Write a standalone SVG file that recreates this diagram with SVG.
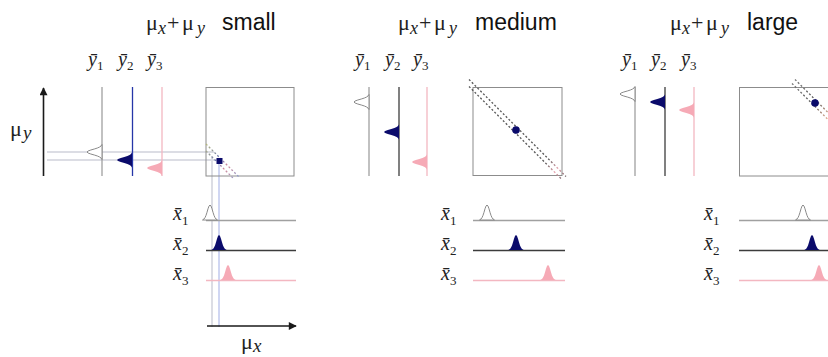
<svg xmlns="http://www.w3.org/2000/svg" width="828" height="357" viewBox="0 0 828 357">
<style>
.ser{font-family:"Liberation Serif","Times New Roman","DejaVu Serif",serif;fill:#222}
.san{font-family:"Liberation Sans",Arial,sans-serif;fill:#111;font-size:23px}
.it{font-style:italic}
.lab{font-size:20px}
.sub{font-size:13px}
.pk1{fill:#fff;stroke:#8a8a8a;stroke-width:1}
.pk2{fill:#0b0b6b}
.pk3{fill:#f6aab6}
.l1{stroke:#a0a0a0;stroke-width:1.3;fill:none}
.l2{stroke:#3c3c3c;stroke-width:1.3;fill:none}
.l2b{stroke:#2636a8;stroke-width:1.3;fill:none}
.l3{stroke:#f3b7c1;stroke-width:1.3;fill:none}
.box{fill:none;stroke:#8c8c8c;stroke-width:1}
.band{fill:none;stroke-width:1.3;stroke-dasharray:2 2}
.guide{stroke:#dcdde4;stroke-width:2;fill:none}
.guideb{stroke:#c0c8ee;stroke-width:1.5;fill:none}
.axis{stroke:#1a1a1a;stroke-width:1.6;fill:none}
</style>
<defs>
<path id="bell" d="M-7.5,0 L-7,-0.4 -6,-1 -5,-2.4 -4,-4.6 -3,-7.7 -2,-11.2 -1,-13.9 0,-15 1,-13.9 2,-11.2 3,-7.7 4,-4.6 5,-2.4 6,-1 7,-0.4 7.5,0 Z"/>
<marker id="ah" viewBox="0 0 10 10" refX="9" refY="5" markerWidth="11" markerHeight="8" orient="auto" markerUnits="userSpaceOnUse">
<path d="M0,0 L10,5 L0,10 Z" fill="#1a1a1a"/>
</marker>
<linearGradient id="g1" gradientUnits="userSpaceOnUse" x1="206" y1="143" x2="240" y2="177">
<stop offset="0" stop-color="#b9bb7a"/><stop offset="0.45" stop-color="#6a74b8"/><stop offset="0.65" stop-color="#d88a98"/><stop offset="1" stop-color="#8aa0d0"/>
</linearGradient>
<linearGradient id="g2" gradientUnits="userSpaceOnUse" x1="470" y1="84" x2="566" y2="180">
<stop offset="0" stop-color="#555"/><stop offset="0.8" stop-color="#555"/><stop offset="0.9" stop-color="#e8a0ac"/><stop offset="1" stop-color="#555"/>
</linearGradient>
<linearGradient id="g3" gradientUnits="userSpaceOnUse" x1="792" y1="80" x2="830" y2="118">
<stop offset="0" stop-color="#777"/><stop offset="0.6" stop-color="#555"/><stop offset="1" stop-color="#e8b090"/>
</linearGradient>
</defs>

<!-- Panel 1: small -->
<g id="panel-small">
<text class="ser" x="146" y="30" font-size="22">μ<tspan class="it" x="158" dy="4" font-size="18">x</tspan><tspan x="167" dy="-4">+</tspan><tspan x="182">μ</tspan><tspan class="it" x="197" dy="4" font-size="18">y</tspan></text>
<text class="san" x="222" y="30">small</text>

<g id="p1-yaxis">
<line class="axis" x1="43.5" y1="176" x2="43.5" y2="88" marker-end="url(#ah)"/>
<text class="ser" x="10" y="136" font-size="22">μ<tspan class="it" x="23" dy="3" font-size="19">y</tspan></text>
</g>
<g id="p1-guides">
<line class="guide" x1="47" y1="152" x2="214" y2="152"/>
<line class="guide" x1="47" y1="160" x2="219" y2="160"/>
<line class="guide" x1="212" y1="156" x2="212" y2="327"/>
<line class="guideb" x1="219" y1="161" x2="219" y2="327"/>
</g>
<g id="p1-y">
<text class="ser lab" x="88" y="66"><tspan class="it">ȳ</tspan><tspan class="sub" dy="4">1</tspan></text>
<text class="ser lab" x="118" y="66"><tspan class="it">ȳ</tspan><tspan class="sub" dy="4">2</tspan></text>
<text class="ser lab" x="147" y="66"><tspan class="it">ȳ</tspan><tspan class="sub" dy="4">3</tspan></text>
<line class="l1" x1="102" y1="87" x2="102" y2="176"/>
<line class="l2b" x1="132.5" y1="87" x2="132.5" y2="176"/>
<line class="l3" x1="162" y1="87" x2="162" y2="176"/>
<use href="#bell" class="pk1" transform="translate(102,152) rotate(-90)"/>
<use href="#bell" class="pk2" transform="translate(132,160) rotate(-90)"/>
<use href="#bell" class="pk3" transform="translate(162,168) rotate(-90)"/>
</g>
<g id="p1-joint">
<rect class="box" x="206" y="87.5" width="88" height="88.5"/>
<line class="band" stroke="url(#g1)" x1="206" y1="144" x2="240" y2="178"/>
<line class="band" stroke="url(#g1)" x1="206" y1="151" x2="233" y2="178"/>
<rect x="216.5" y="158" width="6" height="6" fill="#0b0b6b"/>
</g>
<g id="p1-x">
<text class="ser lab" x="173" y="220"><tspan class="it">x̄</tspan><tspan class="sub" dy="5">1</tspan></text>
<text class="ser lab" x="173" y="250"><tspan class="it">x̄</tspan><tspan class="sub" dy="5">2</tspan></text>
<text class="ser lab" x="173" y="280"><tspan class="it">x̄</tspan><tspan class="sub" dy="5">3</tspan></text>
<line class="l1" x1="206" y1="220.5" x2="296" y2="220.5"/>
<line class="l2" x1="206" y1="250.5" x2="296" y2="250.5"/>
<line class="l3" x1="206" y1="280.5" x2="296" y2="280.5"/>
<use href="#bell" class="pk1" transform="translate(210,220)"/>
<use href="#bell" class="pk2" transform="translate(219,250)"/>
<use href="#bell" class="pk3" transform="translate(228,280)"/>
</g>
<g id="p1-xaxis">
<line class="axis" x1="207" y1="326" x2="296" y2="326" marker-end="url(#ah)"/>
<text class="ser" x="241" y="349" font-size="22">μ<tspan class="it" x="253" dy="3" font-size="19">x</tspan></text>
</g>
</g>

<!-- Panel 2: medium -->
<g id="panel-medium">
<text class="ser" x="398" y="30" font-size="22">μ<tspan class="it" x="410" dy="4" font-size="18">x</tspan><tspan x="419" dy="-4">+</tspan><tspan x="434">μ</tspan><tspan class="it" x="449" dy="4" font-size="18">y</tspan></text>
<text class="san" x="475" y="30">medium</text>
<g id="p2-y">
<text class="ser lab" x="355" y="66"><tspan class="it">ȳ</tspan><tspan class="sub" dy="4">1</tspan></text>
<text class="ser lab" x="385" y="66"><tspan class="it">ȳ</tspan><tspan class="sub" dy="4">2</tspan></text>
<text class="ser lab" x="413" y="66"><tspan class="it">ȳ</tspan><tspan class="sub" dy="4">3</tspan></text>
<line class="l1" x1="369" y1="87" x2="369" y2="176"/>
<line class="l2" x1="399" y1="87" x2="399" y2="176"/>
<line class="l3" x1="427" y1="87" x2="427" y2="176"/>
<use href="#bell" class="pk1" transform="translate(369,102) rotate(-90)"/>
<use href="#bell" class="pk2" transform="translate(399,132) rotate(-90)"/>
<use href="#bell" class="pk3" transform="translate(427,162) rotate(-90)"/>
</g>
<g id="p2-joint">
<rect class="box" x="473" y="87.5" width="89" height="88"/>
<line class="band" stroke="url(#g2)" x1="469" y1="79.5" x2="566" y2="176.5"/>
<line class="band" stroke="url(#g2)" x1="469" y1="86.5" x2="562" y2="179.5"/>
<circle cx="516" cy="130" r="3.8" fill="#0b0b6b"/>
</g>
<g id="p2-x">
<text class="ser lab" x="441" y="220"><tspan class="it">x̄</tspan><tspan class="sub" dy="5">1</tspan></text>
<text class="ser lab" x="441" y="250"><tspan class="it">x̄</tspan><tspan class="sub" dy="5">2</tspan></text>
<text class="ser lab" x="441" y="280"><tspan class="it">x̄</tspan><tspan class="sub" dy="5">3</tspan></text>
<line class="l1" x1="473" y1="220.5" x2="565" y2="220.5"/>
<line class="l2" x1="473" y1="250.5" x2="565" y2="250.5"/>
<line class="l3" x1="473" y1="280.5" x2="565" y2="280.5"/>
<use href="#bell" class="pk1" transform="translate(487,220)"/>
<use href="#bell" class="pk2" transform="translate(516,250)"/>
<use href="#bell" class="pk3" transform="translate(548,280)"/>
</g>
</g>

<!-- Panel 3: large -->
<g id="panel-large">
<text class="ser" x="670" y="30" font-size="22">μ<tspan class="it" x="682" dy="4" font-size="18">x</tspan><tspan x="691" dy="-4">+</tspan><tspan x="706">μ</tspan><tspan class="it" x="721" dy="4" font-size="18">y</tspan></text>
<text class="san" x="747" y="30">large</text>
<g id="p3-y">
<text class="ser lab" x="622" y="66"><tspan class="it">ȳ</tspan><tspan class="sub" dy="4">1</tspan></text>
<text class="ser lab" x="651" y="66"><tspan class="it">ȳ</tspan><tspan class="sub" dy="4">2</tspan></text>
<text class="ser lab" x="681" y="66"><tspan class="it">ȳ</tspan><tspan class="sub" dy="4">3</tspan></text>
<line class="l1" x1="635" y1="87" x2="635" y2="176"/>
<line class="l2" x1="665" y1="87" x2="665" y2="176"/>
<line class="l3" x1="694" y1="87" x2="694" y2="176"/>
<use href="#bell" class="pk1" transform="translate(635,94) rotate(-90)"/>
<use href="#bell" class="pk2" transform="translate(665,102) rotate(-90)"/>
<use href="#bell" class="pk3" transform="translate(694,110) rotate(-90)"/>
</g>
<g id="p3-joint">
<rect class="box" x="739.5" y="87.5" width="100" height="88.5"/>
<line class="band" stroke="url(#g3)" x1="795" y1="79.5" x2="830" y2="114.5"/>
<line class="band" stroke="url(#g3)" x1="792" y1="83.5" x2="830" y2="121.5"/>
<circle cx="815" cy="103" r="3.8" fill="#0b0b6b"/>
</g>
<g id="p3-x">
<text class="ser lab" x="704" y="220"><tspan class="it">x̄</tspan><tspan class="sub" dy="5">1</tspan></text>
<text class="ser lab" x="704" y="250"><tspan class="it">x̄</tspan><tspan class="sub" dy="5">2</tspan></text>
<text class="ser lab" x="704" y="280"><tspan class="it">x̄</tspan><tspan class="sub" dy="5">3</tspan></text>
<line class="l1" x1="739" y1="220.5" x2="828" y2="220.5"/>
<line class="l2" x1="739" y1="250.5" x2="828" y2="250.5"/>
<line class="l3" x1="739" y1="280.5" x2="828" y2="280.5"/>
<use href="#bell" class="pk1" transform="translate(803,220)"/>
<use href="#bell" class="pk2" transform="translate(812,250)"/>
<use href="#bell" class="pk3" transform="translate(819,280)"/>
</g>
</g>
</svg>
